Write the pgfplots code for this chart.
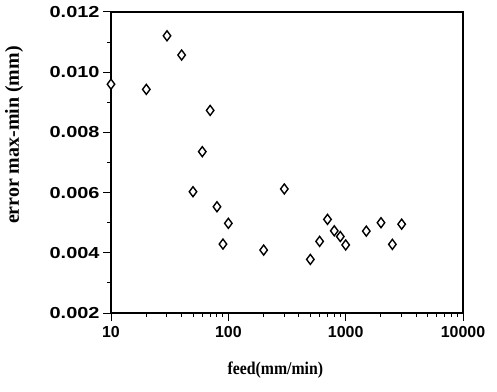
\documentclass[border=0pt]{standalone}
\usepackage{graphicx}
\usepackage{pgfplots}
\pgfplotsset{compat=1.18}
\usepackage{fontspec}
\setmainfont{Liberation Serif}
\newfontfamily\tickfont{Liberation Sans}
\newcommand{\yt}[1]{\scalebox{1.25}[1]{#1}}
\begin{document}
\begin{tikzpicture}
\useasboundingbox (-111bp,-79bp) rectangle (386bp,313bp);
\begin{axis}[
  at={(0,0)}, anchor=south west,
  scale only axis, width=352bp, height=301bp,
  xmode=log, xmin=10, xmax=10000, ymin=0.002, ymax=0.012,
  scaled y ticks=false,
  axis line style={line width=1.2bp},
  every tick/.style={black, line width=1bp},
  tick align=outside,
  xtick pos=bottom, ytick pos=left,
  major tick length=8bp, minor tick length=4bp,
  xtick={10,100,1000,10000},
  xticklabels={10,100,1000,10000},
  minor xtick={20,30,40,50,60,70,80,90,200,300,400,500,600,700,800,900,2000,3000,4000,5000,6000,7000,8000,9000},
  ytick={0.002,0.004,0.006,0.008,0.010,0.012},
  yticklabels={\yt{0.002},\yt{0.004},\yt{0.006},\yt{0.008},\yt{0.010},\yt{0.012}},
  minor ytick={0.003,0.005,0.007,0.009,0.011},
  ticklabel style={font=\tickfont\bfseries\fontsize{16}{16}\selectfont},
  xticklabel style={yshift=-2bp},
  xlabel={\scalebox{0.88}[1]{\bfseries\fontsize{18}{18}\selectfont feed(mm/min)}},
  ylabel={\bfseries\fontsize{20}{20}\selectfont error max-min (mm)},
  xlabel style={at={(axis description cs:0.467,-0.189)}, anchor=center},
  ylabel style={at={(axis description cs:-0.2756,0.591)}, anchor=center},
  clip=false,
]
\addplot[only marks, mark=diamond*, mark size=5bp,
  mark options={draw=black, fill=white, line width=1.4bp}]
  coordinates {
  (10,0.0096) (20,0.00943) (30,0.01121) (40,0.01057) (50,0.00603)
  (60,0.00736) (70,0.00873) (80,0.00553) (90,0.00429) (100,0.00498)
  (200,0.00409) (300,0.00612) (500,0.00378) (600,0.00438) (700,0.00511)
  (800,0.00473) (900,0.00454) (1000,0.00426) (1500,0.00472) (2000,0.00500)
  (2500,0.00428) (3000,0.00495)
  };
\end{axis}
\end{tikzpicture}
\end{document}
